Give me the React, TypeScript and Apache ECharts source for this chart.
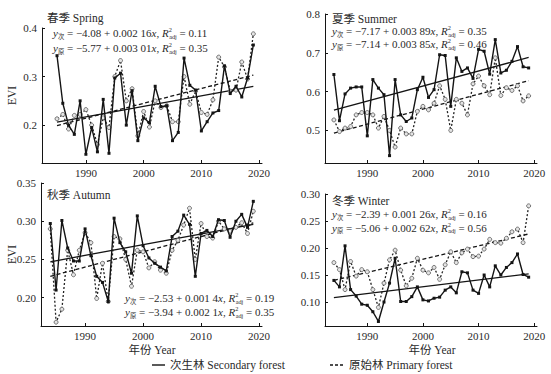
import React, { useEffect, useRef } from 'react';
import * as echarts from 'echarts';

const YEARS = [1984, 1985, 1986, 1987, 1988, 1989, 1990, 1991, 1992, 1993, 1994, 1995, 1996, 1997, 1998, 1999, 2000, 2001, 2002, 2003, 2004, 2005, 2006, 2007, 2008, 2009, 2010, 2011, 2012, 2013, 2014, 2015, 2016, 2017, 2018, 2019];
const SPRING_YEARS = YEARS.slice(1);
const TREND_YEARS = [1984, 2019];
const SPRING_TREND_YEARS = [1985, 2019];

const SPRING_SEC = [0.343, 0.245, 0.200, 0.181, 0.250, 0.140, 0.195, 0.145, 0.253, 0.142, 0.297, 0.307, 0.200, 0.271, 0.168, 0.215, 0.205, 0.280, 0.238, 0.240, 0.168, 0.185, 0.338, 0.282, 0.272, 0.188, 0.207, 0.225, 0.230, 0.322, 0.265, 0.280, 0.258, 0.297, 0.365];
const SPRING_PRI = [0.213, 0.222, 0.192, 0.220, 0.222, 0.232, 0.200, 0.160, 0.215, 0.195, 0.300, 0.333, 0.250, 0.275, 0.178, 0.228, 0.196, 0.250, 0.236, 0.240, 0.207, 0.207, 0.300, 0.243, 0.270, 0.226, 0.222, 0.252, 0.340, 0.320, 0.270, 0.272, 0.330, 0.295, 0.388];
const SUMMER_SEC = [0.644, 0.525, 0.594, 0.609, 0.612, 0.612, 0.486, 0.631, 0.609, 0.592, 0.435, 0.631, 0.540, 0.523, 0.532, 0.605, 0.637, 0.585, 0.605, 0.695, 0.693, 0.562, 0.687, 0.652, 0.661, 0.634, 0.709, 0.704, 0.645, 0.734, 0.648, 0.655, 0.678, 0.716, 0.664, 0.661];
const SUMMER_PRI = [0.527, 0.497, 0.506, 0.510, 0.540, 0.546, 0.546, 0.540, 0.506, 0.536, 0.500, 0.457, 0.506, 0.491, 0.491, 0.549, 0.562, 0.553, 0.570, 0.615, 0.580, 0.500, 0.580, 0.570, 0.540, 0.620, 0.640, 0.615, 0.592, 0.687, 0.590, 0.610, 0.603, 0.615, 0.576, 0.589];
const AUTUMN_SEC = [0.297, 0.210, 0.301, 0.265, 0.248, 0.248, 0.290, 0.255, 0.228, 0.220, 0.195, 0.304, 0.272, 0.260, 0.232, 0.307, 0.268, 0.252, 0.245, 0.240, 0.235, 0.280, 0.287, 0.308, 0.296, 0.228, 0.284, 0.288, 0.280, 0.302, 0.301, 0.279, 0.300, 0.309, 0.292, 0.326];
const AUTUMN_PRI = [0.290, 0.168, 0.185, 0.262, 0.230, 0.262, 0.285, 0.272, 0.199, 0.245, 0.195, 0.280, 0.277, 0.250, 0.215, 0.262, 0.260, 0.239, 0.247, 0.236, 0.232, 0.262, 0.275, 0.295, 0.317, 0.250, 0.297, 0.280, 0.278, 0.300, 0.290, 0.287, 0.292, 0.298, 0.284, 0.313];
const WINTER_SEC = [0.140, 0.128, 0.204, 0.123, 0.111, 0.096, 0.094, 0.082, 0.064, 0.100, 0.135, 0.181, 0.101, 0.101, 0.110, 0.128, 0.104, 0.102, 0.107, 0.109, 0.122, 0.128, 0.117, 0.156, 0.154, 0.122, 0.116, 0.150, 0.128, 0.167, 0.150, 0.164, 0.173, 0.189, 0.151, 0.146];
const WINTER_PRI = [0.173, 0.160, 0.123, 0.175, 0.148, 0.160, 0.156, 0.123, 0.090, 0.135, 0.178, 0.196, 0.159, 0.130, 0.144, 0.181, 0.159, 0.154, 0.164, 0.142, 0.169, 0.193, 0.173, 0.191, 0.198, 0.184, 0.185, 0.198, 0.216, 0.210, 0.209, 0.218, 0.230, 0.235, 0.210, 0.278];

const SPRING_TREND_SEC = [0.206, 0.280];
const SPRING_TREND_PRI = [0.199, 0.303];
const SUMMER_TREND_SEC = [0.552, 0.688];
const SUMMER_TREND_PRI = [0.493, 0.628];
const AUTUMN_TREND_SEC = [0.247, 0.296];
const AUTUMN_TREND_PRI = [0.228, 0.298];
const WINTER_TREND_SEC = [0.108, 0.152];
const WINTER_TREND_PRI = [0.140, 0.226];

const X_TICKS = [1990, 2000, 2010, 2020];
const SPRING_TICKS = [0.2, 0.3, 0.4];
const SUMMER_TICKS = [0.5, 0.6, 0.7, 0.8];
const AUTUMN_TICKS = [0.2, 0.25, 0.3, 0.35];
const WINTER_TICKS = [0.1, 0.15, 0.2, 0.25, 0.3];

const TITLES = ['春季 Spring', '夏季 Summer', '秋季 Autumn', '冬季 Winter'];
const EQUATIONS = [
  [['次', '−4.08 + 0.002 16', '0.11'], ['原', '−5.77 + 0.003 01', '0.35']],
  [['次', '−7.17 + 0.003 89', '0.35'], ['原', '−7.14 + 0.003 85', '0.46']],
  [['次', '−2.53 + 0.001 4', '0.19'], ['原', '−3.94 + 0.002 1', '0.35']],
  [['次', '−2.39 + 0.001 26', '0.16'], ['原', '−5.06 + 0.002 62', '0.56']],
];
const Y_NAME = 'EVI';
const X_NAME = '年份 Year';
const LEGEND = ['次生林 Secondary forest', '原始林 Primary forest'];

const FONT = 'Liberation Serif, Noto Sans CJK SC, serif';
const TXT = '#2a2a2a';
const LINE = '#141414';

const pairs = (xs: number[], vs: number[]) => xs.map((x, i) => [x, vs[i]]);

const PANELS = [
  { years: SPRING_YEARS, tYears: SPRING_TREND_YEARS, sec: SPRING_SEC, pri: SPRING_PRI, tSec: SPRING_TREND_SEC, tPri: SPRING_TREND_PRI, ticks: SPRING_TICKS, dec: 1, yMin: 0.122, yMax: 0.4, grid: { left: 42, top: 28, width: 220, height: 135 } },
  { years: YEARS, tYears: TREND_YEARS, sec: SUMMER_SEC, pri: SUMMER_PRI, tSec: SUMMER_TREND_SEC, tPri: SUMMER_TREND_PRI, ticks: SUMMER_TICKS, dec: 1, yMin: 0.416, yMax: 0.8, grid: { left: 325, top: 14, width: 212, height: 149 } },
  { years: YEARS, tYears: TREND_YEARS, sec: AUTUMN_SEC, pri: AUTUMN_PRI, tSec: AUTUMN_TREND_SEC, tPri: AUTUMN_TREND_PRI, ticks: AUTUMN_TICKS, dec: 2, yMin: 0.163, yMax: 0.35, grid: { left: 41, top: 183, width: 221, height: 143 } },
  { years: YEARS, tYears: TREND_YEARS, sec: WINTER_SEC, pri: WINTER_PRI, tSec: WINTER_TREND_SEC, tPri: WINTER_TREND_PRI, ticks: WINTER_TICKS, dec: 2, yMin: 0.0556, yMax: 0.3, grid: { left: 325, top: 194, width: 212, height: 132 } },
];

const TEXT_POS = [
  { title: [47, 18], eq: [53, 33, 15] },
  { title: [332, 18.5], eq: [332, 30.8, 13] },
  { title: [47, 195], eq: [125, 298, 14] },
  { title: [332, 201], eq: [332, 214, 13.5] },
];

const RICH = {
  n: { fontFamily: FONT, fontSize: 11, fill: TXT, color: TXT, lineHeight: 13 },
  i: { fontFamily: FONT, fontSize: 11, fontStyle: 'italic', fill: TXT, color: TXT, lineHeight: 13 },
  sb: { fontFamily: FONT, fontSize: 6.3, fill: TXT, color: TXT, verticalAlign: 'bottom' },
  sp: { fontFamily: FONT, fontSize: 6.3, fill: TXT, color: TXT, verticalAlign: 'top', width: 0.5 },
};

function eqText(e: string[]) {
  return `{i|y}{sb|${e[0]}}{n| = ${e[1]}}{i|x}{n|, }{i|R}{sp|2}{sb|adj}{n| = ${e[2]}}`;
}

export default function App() {
  const ref = useRef<HTMLDivElement>(null);
  useEffect(() => {
    if (!ref.current) return;
    const chart = echarts.init(ref.current, undefined, { renderer: 'svg' });
    const grid: any[] = [];
    const xAxis: any[] = [];
    const yAxis: any[] = [];
    const series: any[] = [];
    const graphic: any[] = [];
    PANELS.forEach((p, k) => {
      grid.push({ ...p.grid, outerBoundsMode: 'none', containLabel: false });
      xAxis.push({
        type: 'value', gridIndex: k, min: 1982.4, max: 2020.5,
        axisLine: { show: true, onZero: false, lineStyle: { color: LINE, width: 1 } },
        axisTick: { show: true, inside: true, length: 3, customValues: X_TICKS, lineStyle: { color: LINE } },
        axisLabel: { customValues: X_TICKS, fontFamily: FONT, fontSize: 11, color: TXT, margin: 4, formatter: (v: number) => String(Math.round(v)) },
        splitLine: { show: false },
      });
      yAxis.push({
        type: 'value', gridIndex: k, min: p.yMin, max: p.yMax,
        axisLine: { show: true, onZero: false, lineStyle: { color: LINE, width: 1 } },
        axisTick: { show: true, inside: true, length: 3, customValues: p.ticks, lineStyle: { color: LINE } },
        axisLabel: { customValues: p.ticks, fontFamily: FONT, fontSize: 11, color: TXT, margin: 5, formatter: (v: number) => v.toFixed(p.dec) },
        splitLine: { show: false },
      });
      series.push({
        type: 'line', xAxisIndex: k, yAxisIndex: k, data: pairs(p.tYears, p.tSec), symbol: 'none',
        lineStyle: { color: LINE, width: 1.3 }, z: 2, silent: true,
      });
      series.push({
        type: 'line', xAxisIndex: k, yAxisIndex: k, data: pairs(p.tYears, p.tPri), symbol: 'none',
        lineStyle: { color: LINE, width: 1.3, type: [4, 2.5] }, z: 2, silent: true,
      });
      series.push({
        type: 'line', xAxisIndex: k, yAxisIndex: k, data: pairs(p.years, p.pri), symbol: 'circle', symbolSize: 4, showAllSymbol: true,
        itemStyle: { color: '#e4e4e4', borderColor: '#555', borderWidth: 0.8 },
        lineStyle: { color: '#222', width: 1.3, type: [2, 2] }, z: 3,
      });
      series.push({
        type: 'line', xAxisIndex: k, yAxisIndex: k, data: pairs(p.years, p.sec), symbol: 'rect', symbolSize: 3, showAllSymbol: true,
        itemStyle: { color: LINE }, lineStyle: { color: LINE, width: 1.4 }, z: 4,
      });
      const t = TEXT_POS[k];
      graphic.push({ type: 'text', x: t.title[0], y: t.title[1], style: { text: TITLES[k], fontFamily: FONT, fontSize: 11.5, fill: TXT, verticalAlign: 'middle', align: 'left' }, z: 10 });
      EQUATIONS[k].forEach((e, j) => {
        graphic.push({ type: 'text', x: t.eq[0], y: t.eq[1] + j * t.eq[2], style: { text: eqText(e), rich: RICH, fontFamily: FONT, fontSize: 11, fill: TXT, verticalAlign: 'middle', align: 'left' }, z: 10 });
      });
    });
    const big = { fontFamily: FONT, fontSize: 11.5, fill: TXT };
    graphic.push({ type: 'text', x: 12, y: 95.5, rotation: Math.PI / 2, style: { ...big, text: Y_NAME, align: 'center', verticalAlign: 'middle' } });
    graphic.push({ type: 'text', x: 12, y: 254.5, rotation: Math.PI / 2, style: { ...big, text: Y_NAME, align: 'center', verticalAlign: 'middle' } });
    graphic.push({ type: 'text', x: 152, y: 350, style: { ...big, text: X_NAME, align: 'center', verticalAlign: 'middle' } });
    graphic.push({ type: 'text', x: 432, y: 350, style: { ...big, text: X_NAME, align: 'center', verticalAlign: 'middle' } });
    graphic.push({ type: 'line', shape: { x1: 152, y1: 365, x2: 165, y2: 365 }, style: { stroke: LINE, lineWidth: 1.4 } });
    graphic.push({ type: 'text', x: 170, y: 365, style: { ...big, text: LEGEND[0], align: 'left', verticalAlign: 'middle' } });
    graphic.push({ type: 'line', shape: { x1: 330, y1: 365, x2: 345, y2: 365 }, style: { stroke: LINE, lineWidth: 1.3, lineDash: [3, 2] } });
    graphic.push({ type: 'text', x: 349, y: 365, style: { ...big, text: LEGEND[1], align: 'left', verticalAlign: 'middle' } });

    chart.setOption({ animation: false, backgroundColor: '#fff', grid, xAxis, yAxis, series, graphic });
    return () => chart.dispose();
  }, []);
  return <div ref={ref} style={{ position: 'fixed', left: 0, top: 0, width: 551, height: 374 }} />;
}
